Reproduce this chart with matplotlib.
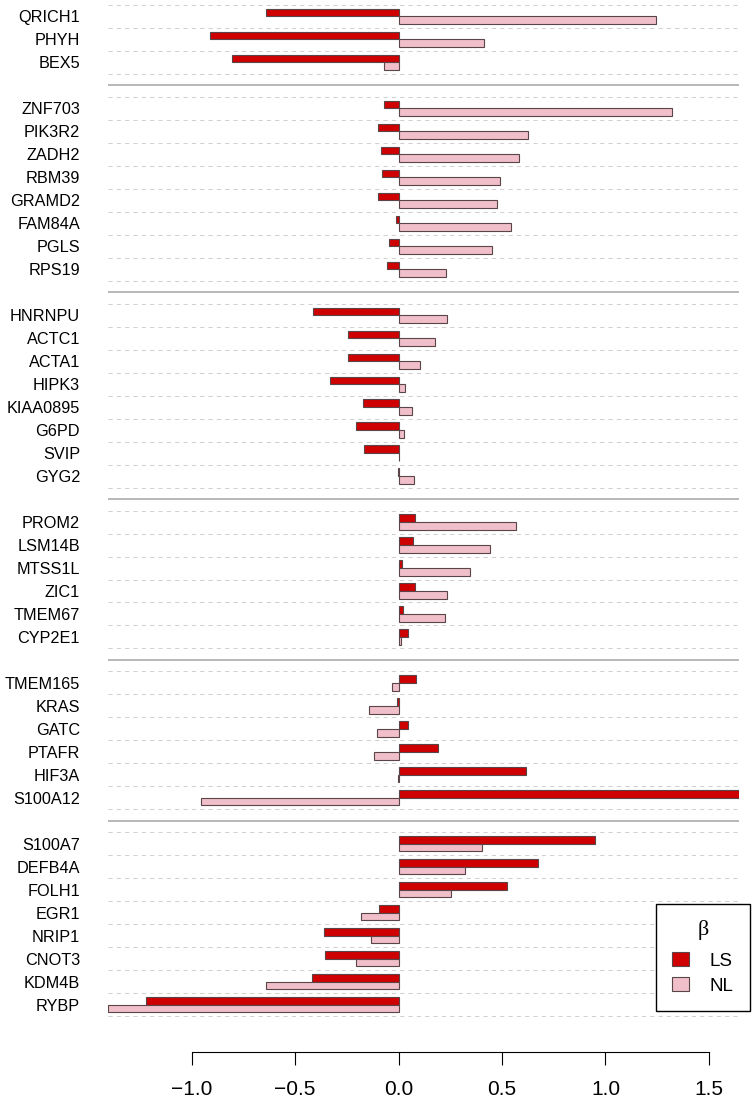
import matplotlib
matplotlib.use("Agg")
import matplotlib.pyplot as plt
from matplotlib.patches import Patch
import numpy as np

plt.rcParams['font.family'] = ['Liberation Sans', 'DejaVu Sans']

# ---------------- data ----------------
genes = ["QRICH1", "PHYH", "BEX5",
         "ZNF703", "PIK3R2", "ZADH2", "RBM39", "GRAMD2", "FAM84A", "PGLS", "RPS19",
         "HNRNPU", "ACTC1", "ACTA1", "HIPK3", "KIAA0895", "G6PD", "SVIP", "GYG2",
         "PROM2", "LSM14B", "MTSS1L", "ZIC1", "TMEM67", "CYP2E1",
         "TMEM165", "KRAS", "GATC", "PTAFR", "HIF3A", "S100A12",
         "S100A7", "DEFB4A", "FOLH1", "EGR1", "NRIP1", "CNOT3", "KDM4B", "RYBP"]
group_sizes = [3, 8, 8, 6, 6, 8]

ls_values = [-0.638, -0.913, -0.806,
             -0.069, -0.101, -0.085, -0.079, -0.097, -0.010, -0.048, -0.055,
             -0.414, -0.246, -0.242, -0.331, -0.170, -0.204, -0.166, -0.004,
             0.079, 0.069, 0.016, 0.081, 0.024, 0.046,
             0.083, -0.006, 0.048, 0.192, 0.616, 1.646,
             0.949, 0.673, 0.525, -0.093, -0.362, -0.356, -0.420, -1.220]
nl_values = [1.244, 0.412, -0.068,
             1.323, 0.624, 0.584, 0.491, 0.475, 0.543, 0.453, 0.230,
             0.232, 0.176, 0.105, 0.032, 0.067, 0.026, 0.002, 0.077,
             0.570, 0.444, 0.345, 0.236, 0.226, 0.014,
             -0.032, -0.141, -0.105, -0.119, -0.002, -0.954,
             0.404, 0.319, 0.253, -0.182, -0.135, -0.204, -0.640, -1.404]
series_names = ["LS", "NL"]
legend_title = "β"
x_ticks = [-1.0, -0.5, 0.0, 0.5, 1.0, 1.5]

# ---------------- style ----------------
ls_color = "#CF0000"
nl_color = "#F1BFCA"
edge_color = "#5a4549"
dash_color = "#d0d0d0"
sep_color = "#ababab"

W, H = 756, 1105
fig = plt.figure(figsize=(W / 100, H / 100), dpi=100)
ax_left_px, ax_right_px = 107.9, 739.2
ax_top_px, ax_bot_px = 0, 1052
ax = fig.add_axes([ax_left_px / W, 1 - ax_bot_px / H,
                   (ax_right_px - ax_left_px) / W, (ax_bot_px - ax_top_px) / H])

slot_px = 22.98
y0_px = 5
ax.set_ylim((ax_bot_px - y0_px) / slot_px, (ax_top_px - y0_px) / slot_px)

positions = []
starts = []
s = 0
for n in group_sizes:
    starts.append(s)
    positions.extend(range(s, s + n))
    s += n + 1
pos = np.array(positions, dtype=float)

bar_h = 1 / 3
ax.barh(pos + 1 / 3, ls_values, height=bar_h, color=ls_color,
        edgecolor=edge_color, linewidth=0.8, zorder=3)
ax.barh(pos + 2 / 3, nl_values, height=bar_h, color=nl_color,
        edgecolor=edge_color, linewidth=0.8, zorder=3)

for gi, (st, n) in enumerate(zip(starts, group_sizes)):
    for b in range(st, st + n + 1):
        ax.axhline(b, color=dash_color, lw=0.75, ls=(0, (4, 4)), zorder=1)
    if gi < len(group_sizes) - 1:
        ax.axhline(st + n + 0.5, color=sep_color, lw=1.2, zorder=1)

all_vals = ls_values + nl_values
ax.set_xlim(min(all_vals), max(all_vals))

ax.set_yticks(pos + 0.5)
ax.set_yticklabels(genes, fontsize=11.7)
ax.tick_params(axis='y', length=0, pad=(ax_left_px - 80) / 100 * 72)

for sp in ['top', 'right', 'left']:
    ax.spines[sp].set_visible(False)
ax.spines['bottom'].set_bounds(x_ticks[0], x_ticks[-1])
ax.spines['bottom'].set_linewidth(0.8)
ax.set_xticks(x_ticks)
ax.set_xticklabels([f"{t:.1f}".replace("-", "\u2212") for t in x_ticks], fontsize=15)
ax.tick_params(axis='x', length=9.4, width=0.8, pad=11, direction='out')

handles = [Patch(facecolor=ls_color, edgecolor=edge_color, linewidth=0.8, label=series_names[0]),
           Patch(facecolor=nl_color, edgecolor=edge_color, linewidth=0.8, label=series_names[1])]
leg = ax.legend(handles=handles, title=legend_title, loc='upper left',
                bbox_to_anchor=(656 / W, 1 - 904 / H), bbox_transform=fig.transFigure,
                frameon=True, fancybox=False, edgecolor='black', framealpha=1,
                fontsize=13.5, title_fontsize=16, handlelength=0.9, handleheight=0.75,
                handletextpad=1.12, labelspacing=0.4, borderpad=0.85, borderaxespad=0)
leg.get_frame().set_linewidth(1.0)
leg.get_title().set_family(['Liberation Serif', 'DejaVu Serif'])
leg._legend_box.sep = 9

fig.savefig("out.png", dpi=100)
